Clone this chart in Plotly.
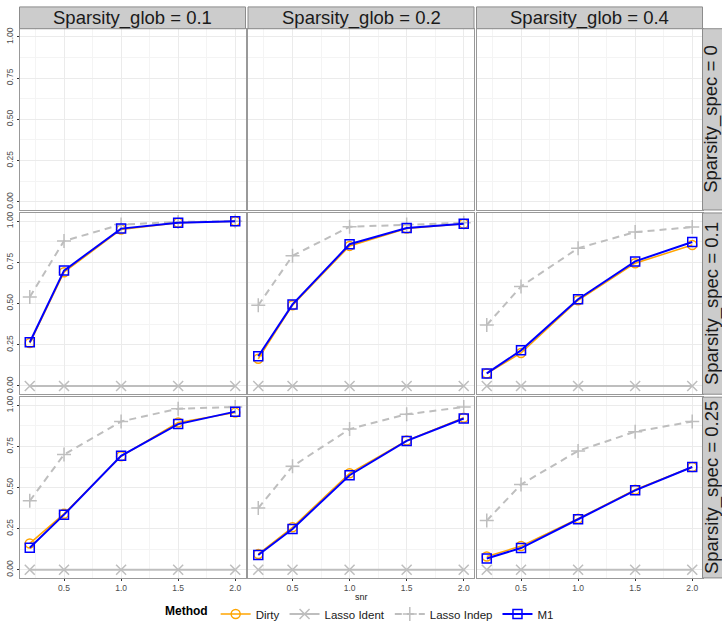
import plotly.graph_objects as go

# ---------------- data ----------------
snr = [0.2, 0.5, 1.0, 1.5, 2.0]
glob_levels = ["0.1", "0.2", "0.4"]
spec_levels = ["0", "0.1", "0.25"]
methods = ["Dirty", "Lasso Ident", "Lasso Indep", "M1"]

# Sparsity_spec = 0 : no data (empty panels)
# Sparsity_spec = 0.1 ; one list per Sparsity_glob (0.1, 0.2, 0.4)
dirty_spec01 = [[0.26, 0.69, 0.95, 0.99, 1.00],
                [0.165, 0.49, 0.85, 0.955, 0.985],
                [0.075, 0.20, 0.52, 0.745, 0.855]]
ident_spec01 = [[0, 0, 0, 0, 0],
                [0, 0, 0, 0, 0],
                [0, 0, 0, 0, 0]]
indep_spec01 = [[0.54, 0.88, 0.98, 0.995, 1.00],
                [0.49, 0.79, 0.966, 0.98, 0.99],
                [0.37, 0.604, 0.836, 0.934, 0.964]]
m1_spec01 = [[0.265, 0.70, 0.955, 0.99, 1.00],
             [0.18, 0.495, 0.86, 0.958, 0.985],
             [0.076, 0.216, 0.526, 0.756, 0.874]]

# Sparsity_spec = 0.25
dirty_spec025 = [[0.16, 0.34, 0.69, 0.896, 0.956],
                 [0.095, 0.258, 0.587, 0.786, 0.925],
                 [0.08, 0.144, 0.31, 0.487, 0.625]]
ident_spec025 = [[0, 0, 0, 0, 0],
                 [0, 0, 0, 0, 0],
                 [0, 0, 0, 0, 0]]
indep_spec025 = [[0.419, 0.701, 0.902, 0.98, 0.99],
                 [0.375, 0.629, 0.856, 0.946, 0.99],
                 [0.299, 0.519, 0.723, 0.84, 0.902]]
m1_spec025 = [[0.134, 0.335, 0.693, 0.886, 0.962],
              [0.09, 0.248, 0.575, 0.784, 0.92],
              [0.068, 0.132, 0.307, 0.483, 0.625]]

x_ticks = [0.5, 1.0, 1.5, 2.0]
x_ticklabels = ["0.5", "1.0", "1.5", "2.0"]
y_ticks = [0.0, 0.25, 0.5, 0.75, 1.0]
y_ticklabels = ["0.00", "0.25", "0.50", "0.75", "1.00"]

# ---------------- layout geometry (pixels) ----------------
W, H = 722, 629
col_px = [(19.5, 245.5), (248.0, 474.0), (476.5, 702.5)]
row_px = [(29.0, 212.0), (215.0, 398.0), (401.0, 583.5)]
strip_top = (7.0, 29.0)
strip_right = (702.5, 722.0)


def px(x):
    return x / W


def py(y):
    return 1 - y / H


FONT = "Liberation Sans, Arial, sans-serif"
styles = {
    "Dirty": dict(color="#FFA500", width=1.5, dash="solid", symbol="circle-open", size=9),
    "Lasso Ident": dict(color="#BEBEBE", width=2, dash="solid", symbol="x-thin-open", size=10),
    "Lasso Indep": dict(color="#BEBEBE", width=2, dash="7px,5px", symbol="cross-thin-open", size=10),
    "M1": dict(color="#0000FF", width=2, dash="solid", symbol="square-open", size=9),
}

row_data = {
    1: {"Dirty": dirty_spec01, "Lasso Ident": ident_spec01,
        "Lasso Indep": indep_spec01, "M1": m1_spec01},
    2: {"Dirty": dirty_spec025, "Lasso Ident": ident_spec025,
        "Lasso Indep": indep_spec025, "M1": m1_spec025},
}

fig = go.Figure()
layout = {}
shown = set()
for r in range(3):
    for c in range(3):
        k = r * 3 + c + 1
        xa = "xaxis" if k == 1 else f"xaxis{k}"
        ya = "yaxis" if k == 1 else f"yaxis{k}"
        xref = "x" if k == 1 else f"x{k}"
        yref = "y" if k == 1 else f"y{k}"
        layout[xa] = dict(
            domain=[px(col_px[c][0]), px(col_px[c][1])],
            anchor=yref, range=[0.11, 2.09],
            tickvals=x_ticks, ticktext=x_ticklabels,
            showticklabels=(r == 2),
            ticks="outside" if r == 2 else "", ticklen=2, tickcolor="#333333",
            tickfont=dict(size=8.5, color="#4D4D4D", family=FONT),
            showgrid=True, gridcolor="#EBEBEB", gridwidth=1,
            minor=dict(dtick=0.25, tick0=0, showgrid=True, gridcolor="#F4F4F4", gridwidth=1, ticks=""),
            showline=True, mirror=True, linecolor="#999999", linewidth=1,
            zeroline=False, automargin=False, fixedrange=True,
        )
        layout[ya] = dict(
            domain=[py(row_px[r][1]), py(row_px[r][0])],
            anchor=xref, range=[-0.05, 1.05],
            tickvals=y_ticks, ticktext=y_ticklabels,
            showticklabels=(c == 0), tickangle=-90,
            ticks="outside" if c == 0 else "", ticklen=2, tickcolor="#333333",
            tickfont=dict(size=8.5, color="#4D4D4D", family=FONT),
            showgrid=True, gridcolor="#EBEBEB", gridwidth=1,
            minor=dict(dtick=0.125, tick0=0, showgrid=True, gridcolor="#F4F4F4", gridwidth=1, ticks=""),
            showline=True, mirror=True, linecolor="#999999", linewidth=1,
            zeroline=False, automargin=False, fixedrange=True,
        )
        if r in row_data:
            for m in methods:
                s = styles[m]
                fig.add_trace(go.Scatter(
                    x=snr, y=row_data[r][m][c], mode="lines+markers", name=m,
                    xaxis=xref, yaxis=yref, legendgroup=m,
                    showlegend=(m not in shown),
                    line=dict(color=s["color"], width=s["width"], dash=s["dash"]),
                    marker=dict(symbol=s["symbol"], size=s["size"], color=s["color"],
                                line=dict(color=s["color"], width=1.5)),
                ))
                shown.add(m)
        else:
            # empty facet: keep the axes visible
            fig.add_trace(go.Scatter(x=[None], y=[None], mode="markers",
                                     xaxis=xref, yaxis=yref, showlegend=False,
                                     hoverinfo="skip"))

shapes = []
annotations = []
# top strips
for c in range(3):
    shapes.append(dict(type="rect", xref="paper", yref="paper",
                       x0=px(col_px[c][0]), x1=px(col_px[c][1]),
                       y0=py(strip_top[1]), y1=py(strip_top[0]),
                       fillcolor="#CCCCCC", line=dict(color="#8C8C8C", width=1), layer="above"))
    annotations.append(dict(xref="paper", yref="paper",
                            x=px((col_px[c][0] + col_px[c][1]) / 2),
                            y=py((strip_top[0] + strip_top[1]) / 2),
                            text=f"Sparsity_glob = {glob_levels[c]}", showarrow=False,
                            font=dict(size=18.5, color="#1A1A1A", family=FONT),
                            xanchor="center", yanchor="middle"))
# right strips
for r in range(3):
    shapes.append(dict(type="rect", xref="paper", yref="paper",
                       x0=px(strip_right[0]), x1=px(strip_right[1] + 2),
                       y0=py(row_px[r][1]), y1=py(row_px[r][0]),
                       fillcolor="#CCCCCC", line=dict(color="#8C8C8C", width=1), layer="above"))
    annotations.append(dict(xref="paper", yref="paper",
                            x=px(711.5),
                            y=py((row_px[r][0] + row_px[r][1]) / 2),
                            text=f"Sparsity_spec = {spec_levels[r]}", showarrow=False,
                            textangle=-90,
                            font=dict(size=18.5, color="#1A1A1A", family=FONT),
                            xanchor="center", yanchor="middle"))
# x-axis title
annotations.append(dict(xref="paper", yref="paper",
                        x=px((col_px[1][0] + col_px[1][1]) / 2), y=py(603),
                        text="snr", showarrow=False,
                        font=dict(size=9, color="#1A1A1A", family=FONT),
                        xanchor="center", yanchor="middle"))

fig.update_layout(
    width=W, height=H,
    margin=dict(l=0, r=0, t=0, b=0),
    paper_bgcolor="white", plot_bgcolor="white",
    shapes=shapes, annotations=annotations,
    legend=dict(orientation="h", x=px(361), xanchor="center", y=py(620), yanchor="middle",
                title=dict(text="<b>Method</b>", side="left",
                           font=dict(size=12, color="#000000", family=FONT)),
                font=dict(size=11.5, color="#1A1A1A", family=FONT),
                itemwidth=30, tracegroupgap=0, bgcolor="rgba(0,0,0,0)"),
    font=dict(family=FONT),
    **layout,
)

fig.write_html(
    "out.html",
    config={"displayModeBar": False},
    post_script="document.body.style.margin='0px';document.body.style.overflow='hidden';",
)
